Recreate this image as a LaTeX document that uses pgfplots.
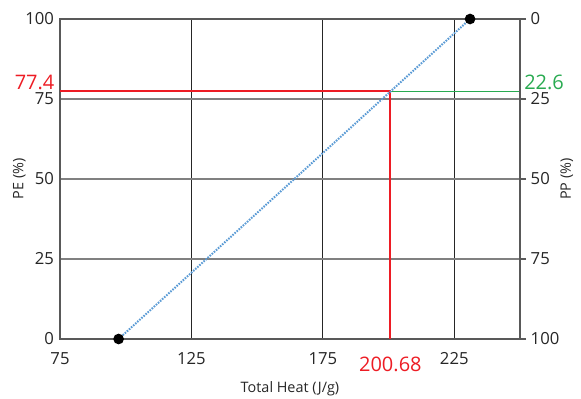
\documentclass[border=0pt]{standalone}
\usepackage{pgfplots}
\pgfplotsset{compat=1.18}
\usepackage{fontspec}
\setmainfont{Open Sans}
\definecolor{lblue}{RGB}{91,155,213}
\definecolor{myred}{RGB}{237,28,36}
\definecolor{mygreen}{RGB}{40,170,80}
\definecolor{txt}{RGB}{38,38,38}
\begin{document}
\begin{tikzpicture}
\begin{axis}[
  scale only axis, width=345pt, height=240pt,
  xmin=75, xmax=250, ymin=0, ymax=100,
  xtick={75,125,175,225}, ytick={0,25,50,75,100},
  axis lines=box, axis line style={color=black!65, line width=0.8pt},
  xmajorgrids, ymajorgrids,
  major x grid style={color=black!85, line width=0.8pt},
  major y grid style={color=black!50, line width=0.8pt},
  major tick length=0pt,
  tick label style={font=\fontsize{12.5}{14}\selectfont, color=txt},
  /pgf/number format/assume math mode=true,
  xticklabel style={yshift=-6.5pt},
  yticklabel style={xshift=-1pt},
  xlabel={Total Heat (J/g)}, ylabel={PE (\%)},
  label style={font=\fontsize{10.8}{13}\selectfont, color=txt},
  xlabel style={yshift=-6pt},
  ylabel style={yshift=-7pt},
  clip=false,
]
\addplot[myred, line width=1.6pt] coordinates {(75,77.4) (200.68,77.4) (200.68,0)};
\addplot[mygreen, line width=1.2pt] coordinates {(200.68,77.4) (250,77.4)};
\addplot[lblue, line width=1.5pt, dash pattern=on 1.2pt off 0.9pt, mark=*, mark size=3.2pt,
  mark options={solid, fill=black, draw=black}] coordinates {(97.3,0) (231.0,100)};
\node[anchor=south east, inner sep=1pt, text=myred, font=\fontsize{15}{17}\selectfont] at (axis cs:75,77.4) [xshift=-3pt] {77.4};
\node[anchor=south west, inner sep=1pt, text=mygreen, font=\fontsize{15}{17}\selectfont] at (axis cs:250,77.4) [xshift=2pt] {22.6};
\node[anchor=north, inner sep=1pt, text=myred, font=\fontsize{15}{17}\selectfont] at (axis cs:200.68,0) [yshift=-12pt] {200.68};
\end{axis}
\begin{axis}[
  scale only axis, width=345pt, height=240pt,
  xmin=75, xmax=250, ymin=0, ymax=100, y dir=reverse,
  axis x line=none, axis y line*=right,
  axis line style={color=black!65, line width=0.8pt, -},
  ytick={0,25,50,75,100},
  tick align=outside, major tick length=4.5pt,
  ytick style={color=black!65, line width=0.8pt},
  tick label style={font=\fontsize{12.5}{14}\selectfont, color=txt},
  /pgf/number format/assume math mode=true,
  ylabel={PP (\%)},
  label style={font=\fontsize{10.8}{13}\selectfont, color=txt},
  ylabel style={yshift=6pt},
]
\end{axis}
\pgfresetboundingbox
\path (current axis.south west) ++(-45pt,-45pt) coordinate (bl);
\path (current axis.north east) ++(45.75pt,14.25pt) coordinate (tr);
\path[use as bounding box] (bl) rectangle (tr);
\end{tikzpicture}
\end{document}
